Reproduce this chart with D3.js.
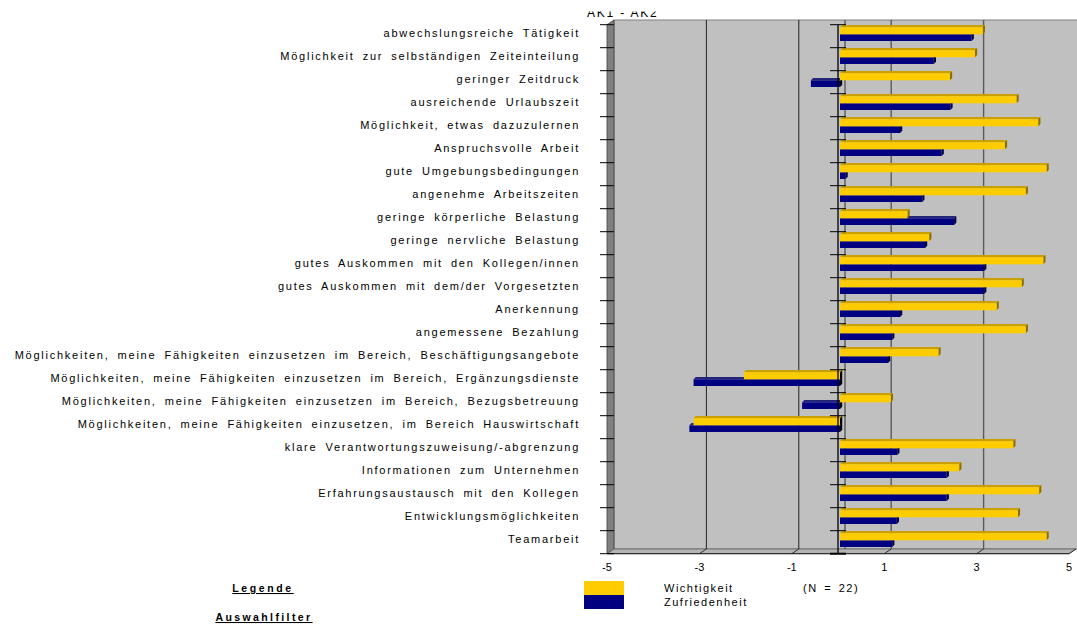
<!DOCTYPE html>
<html>
<head>
<meta charset="utf-8">
<script src="https://cdn.jsdelivr.net/npm/d3@7"></script>
<style>
  body { margin: 0; background: #fff; }
  text { font-family: "Liberation Sans", Arial, sans-serif; }
</style>
</head>
<body>
<div id="chart"></div>
<script>
// AK1 - AK2 : Wichtigkeit vs. Zufriedenheit (N = 22)
var categories = [
  "abwechslungsreiche Tätigkeit",
  "Möglichkeit zur selbständigen Zeiteinteilung",
  "geringer Zeitdruck",
  "ausreichende Urlaubszeit",
  "Möglichkeit, etwas dazuzulernen",
  "Anspruchsvolle Arbeit",
  "gute Umgebungsbedingungen",
  "angenehme Arbeitszeiten",
  "geringe körperliche Belastung",
  "geringe nervliche Belastung",
  "gutes Auskommen mit den Kollegen/innen",
  "gutes Auskommen mit dem/der Vorgesetzten",
  "Anerkennung",
  "angemessene Bezahlung",
  "Möglichkeiten, meine Fähigkeiten einzusetzen im Bereich, Beschäftigungsangebote",
  "Möglichkeiten, meine Fähigkeiten einzusetzen im Bereich, Ergänzungsdienste",
  "Möglichkeiten, meine Fähigkeiten einzusetzen im Bereich, Bezugsbetreuung",
  "Möglichkeiten, meine Fähigkeiten einzusetzen, im Bereich Hauswirtschaft",
  "klare Verantwortungszuweisung/-abgrenzung",
  "Informationen zum Unternehmen",
  "Erfahrungsaustausch mit den Kollegen",
  "Entwicklungsmöglichkeiten",
  "Teamarbeit"
];
var wichtigkeit = [3.09, 2.92, 2.38, 3.82, 4.29, 3.57, 4.47, 4.02, 1.46, 1.93, 4.40, 3.93,
                   3.39, 4.02, 2.13, -2.08, 1.10, -3.17, 3.75, 2.58, 4.31, 3.85, 4.47];
var zufriedenheit = [2.85, 2.03, -0.63, 2.39, 1.30, 2.20, 0.12, 1.78, 2.47, 1.84, 3.12, 3.12,
                     1.30, 1.13, 1.04, -3.17, -0.82, -3.26, 1.24, 2.31, 2.31, 1.23, 1.13];
var tickValues = [-5, -3, -1, 1, 3, 5];
var gridValues = [-3, -1, 0, 1, 3];
var seriesNames = ["Wichtigkeit", "Zufriedenheit"];

var width = 1077, height = 625;
var depthX = 7, depthY = -4.7;

var svg = d3.select("#chart").append("svg")
    .attr("width", width)
    .attr("height", height);

// front plane scales
var x = d3.scaleLinear().domain([-5, 5]).range([607, 1069]);
var y = d3.scaleBand().domain(categories).range([24.7, 553.7]).padding(0);
var top0 = y.range()[0], bottom0 = y.range()[1];

// back wall
svg.append("rect")
    .attr("x", x(-5) + depthX).attr("y", top0 + depthY)
    .attr("width", width - (x(-5) + depthX) + 2)
    .attr("height", bottom0 - top0)
    .attr("fill", "#c0c0c0")
    .attr("stroke", "#808080");

// left wall
svg.append("polygon")
    .attr("points", [[x(-5), top0], [x(-5) + depthX, top0 + depthY],
                     [x(-5) + depthX, bottom0 + depthY], [x(-5), bottom0]].join(" "))
    .attr("fill", "#808080")
    .attr("stroke", "#404040")
    .attr("stroke-width", 0.8);

// floor
svg.append("polygon")
    .attr("points", [[x(-5), bottom0], [x(-5) + depthX, bottom0 + depthY],
                     [x(5) + depthX, bottom0 + depthY], [x(5), bottom0]].join(" "))
    .attr("fill", "#b4b4b4")
    .attr("stroke", "#606060")
    .attr("stroke-width", 0.8);

// gridlines on back wall + floor
svg.selectAll("line.grid")
    .data(gridValues)
    .enter().append("line")
    .attr("x1", function(d) { return x(d) + depthX; })
    .attr("x2", function(d) { return x(d) + depthX; })
    .attr("y1", top0 + depthY)
    .attr("y2", bottom0 + depthY)
    .attr("stroke", function(d) { return d < 0 ? "#202020" : "#5a5a5a"; })
    .attr("stroke-width", function(d) { return d < 0 ? 1 : 1.4; });

svg.selectAll("line.floorgrid")
    .data(tickValues.slice(1))
    .enter().append("line")
    .attr("x1", function(d) { return x(d); })
    .attr("x2", function(d) { return x(d) + depthX; })
    .attr("y1", bottom0)
    .attr("y2", bottom0 + depthY)
    .attr("stroke", "#303030");

// front floor edge
svg.append("line")
    .attr("x1", x(-5)).attr("x2", x(5))
    .attr("y1", bottom0).attr("y2", bottom0)
    .attr("stroke", "#202020");

// left category ticks
svg.selectAll("line.lt")
    .data(d3.range(categories.length + 1))
    .enter().append("line")
    .attr("x1", x(-5) - 7).attr("x2", x(-5) + depthX)
    .attr("y1", function(i) { return top0 + i * y.bandwidth(); })
    .attr("y2", function(i) { return top0 + i * y.bandwidth(); })
    .attr("stroke", "#000");

// bars (3D look)
var xb = function(v) { return x(v) + 2; };
var d = 2.2;
var yellow = { front: "#ffcc00", top: "#c9a000", side: "#8a6e00" };
var navy = { front: "#000080", top: "#24247a", side: "#00003a" };

function drawBar(g, v, y0, y1, c) {
  var a = Math.min(xb(0), xb(v)), b = Math.max(xb(0), xb(v));
  g.append("polygon")
      .attr("points", [[a, y0], [a + d, y0 - d], [b + d, y0 - d], [b, y0]].join(" "))
      .attr("fill", c.top);
  g.append("polygon")
      .attr("points", [[b, y0], [b + d, y0 - d], [b + d, y1 - d], [b, y1]].join(" "))
      .attr("fill", v < 0 ? "#000" : c.side);
  g.append("rect")
      .attr("x", a).attr("y", y0)
      .attr("width", b - a).attr("height", y1 - y0)
      .attr("fill", c.front);
}

var bars = svg.append("g");
categories.forEach(function(cat, i) {
  var y0 = y(cat);
  var g = bars.append("g");
  drawBar(g, zufriedenheit[i], y0 + 9.6, y0 + 16.3, navy);
  drawBar(g, wichtigkeit[i], y0 + 2.5, y0 + 9.6, yellow);
});

// category axis at zero
svg.append("line")
    .attr("x1", x(0)).attr("x2", x(0))
    .attr("y1", top0).attr("y2", bottom0)
    .attr("stroke", "#000")
    .attr("stroke-width", 1.3);
svg.selectAll("line.ct")
    .data(d3.range(categories.length + 1))
    .enter().append("line")
    .attr("x1", x(0) - 8).attr("x2", x(0) + 8)
    .attr("y1", function(i) { return top0 + i * y.bandwidth(); })
    .attr("y2", function(i) { return top0 + i * y.bandwidth(); })
    .attr("stroke", "#000")
    .attr("stroke-width", function(i) { return i === categories.length ? 2 : 1; });

// category labels
svg.selectAll("text.cat")
    .data(categories)
    .enter().append("text")
    .attr("x", 580)
    .attr("y", function(c) { return y(c) + y.bandwidth() / 2 - 3.5; })
    .attr("dy", "0.35em")
    .attr("text-anchor", "end")
    .style("font-size", "11px")
    .style("letter-spacing", "1.75px")
    .style("word-spacing", "3.3px")
    .attr("fill", "#000")
    .text(function(c) { return c; });

// value tick labels
svg.selectAll("text.tick")
    .data(tickValues)
    .enter().append("text")
    .attr("x", function(v) { return x(v); })
    .attr("y", 571)
    .attr("text-anchor", "middle")
    .style("font-size", "11px")
    .text(function(v) { return v; });

// title (clipped at the top)
svg.append("text")
    .attr("x", 587).attr("y", 17)
    .style("font-size", "12px")
    .style("letter-spacing", "1.8px")
    .text("AK1 - AK2");
svg.append("rect")
    .attr("x", 560).attr("y", 0).attr("width", 120).attr("height", 11.5)
    .attr("fill", "#fff");

// legend
svg.append("text")
    .attr("x", 263).attr("y", 592)
    .attr("text-anchor", "middle")
    .style("font-size", "10.5px").style("font-weight", "bold")
    .style("letter-spacing", "2.6px")
    .style("text-decoration", "underline")
    .text("Legende");
svg.append("text")
    .attr("x", 264).attr("y", 621)
    .attr("text-anchor", "middle")
    .style("font-size", "10.5px").style("font-weight", "bold")
    .style("letter-spacing", "2.4px")
    .style("text-decoration", "underline")
    .text("Auswahlfilter");

var legColors = [yellow.front, navy.front];
svg.selectAll("rect.leg")
    .data(seriesNames)
    .enter().append("rect")
    .attr("x", 584)
    .attr("y", function(s, i) { return 581 + i * 14; })
    .attr("width", 40).attr("height", 14)
    .attr("fill", function(s, i) { return legColors[i]; });
svg.selectAll("text.leg")
    .data(seriesNames)
    .enter().append("text")
    .attr("x", 664)
    .attr("y", function(s, i) { return 592 + i * 14; })
    .style("font-size", "11px")
    .style("letter-spacing", "1.5px")
    .text(function(s) { return s; });
svg.append("text")
    .attr("x", 803).attr("y", 592)
    .style("font-size", "11px")
    .style("letter-spacing", "1.5px")
    .style("word-spacing", "2px")
    .text("(N = 22)");
</script>
</body>
</html>
